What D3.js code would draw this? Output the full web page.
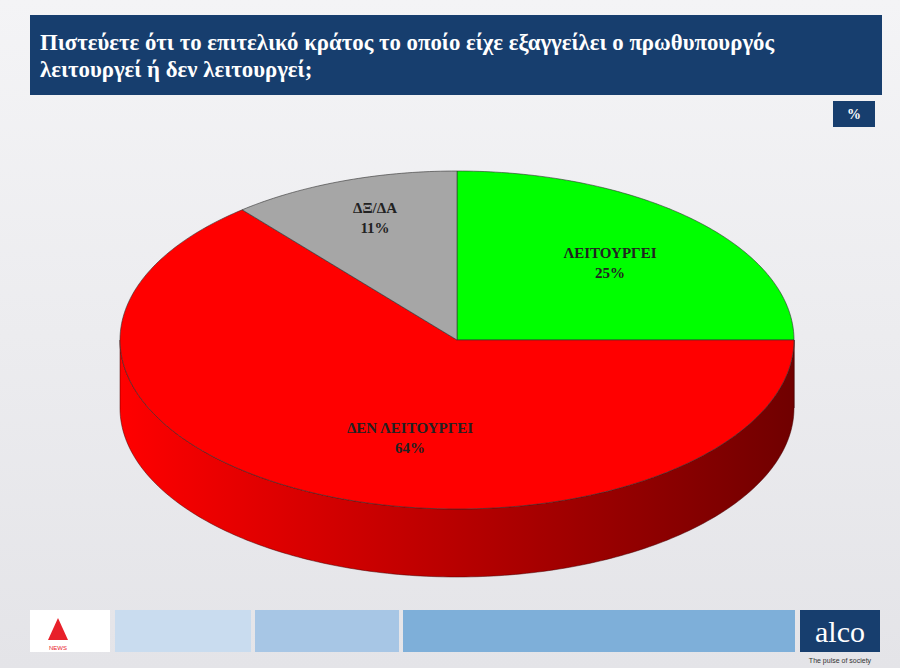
<!DOCTYPE html><html><head><meta charset="utf-8"><script src="https://cdn.jsdelivr.net/npm/d3@7"></script>
<style>body{margin:0}svg{display:block}</style></head><body><svg id="c" width="900" height="668"></svg>
<script>
const categories=["ΛΕΙΤΟΥΡΓΕΙ","ΔΕΝ ΛΕΙΤΟΥΡΓΕΙ","ΔΞ/ΔΑ"];
const values=[25,64,11];
const colors=["#00ff00","#ff0000","#a6a6a6"];
const sideDark=["#008000","#700000","#555555"];
const title=["Πιστεύετε ότι το επιτελικό κράτος το οποίο είχε εξαγγείλει ο πρωθυπουργός","λειτουργεί ή δεν λειτουργεί;"];
const svg=d3.select("#c");
const defs=svg.append("defs");
const bg=defs.append("linearGradient").attr("id","bg").attr("x1",0).attr("y1",0).attr("x2",0).attr("y2",1);
bg.append("stop").attr("offset","0").attr("stop-color","#f4f4f6");
bg.append("stop").attr("offset","1").attr("stop-color","#e4e4e8");
svg.append("rect").attr("width",900).attr("height",668).attr("fill","url(#bg)");
svg.append("rect").attr("x",30).attr("y",15).attr("width",852).attr("height",80).attr("fill","#173e6e");
svg.append("text").attr("fill","#fff").attr("font-family","Liberation Serif").attr("font-weight","bold").attr("font-size",22.8)
 .selectAll("tspan").data(title).join("tspan").attr("x",40).attr("y",(d,i)=>50+i*27).text(d=>d);
svg.append("rect").attr("x",833).attr("y",101).attr("width",42).attr("height",26).attr("fill","#173e6e");
svg.append("text").attr("x",854).attr("y",119).attr("text-anchor","middle").attr("fill","#fff").attr("font-family","Liberation Serif").attr("font-weight","bold").attr("font-size",14).text("%");
const cx=457,cy=340,rx=337,ry=169,depth=68;
const pie=d3.pie().sort(null).value(d=>d)(values);
const pt=(a,dy=0)=>[cx+rx*Math.sin(a),cy-ry*Math.cos(a)+dy];
const arcPts=(a0,a1,dy=0)=>{const n=Math.max(2,Math.ceil((a1-a0)*60));return d3.range(n+1).map(i=>pt(a0+(a1-a0)*i/n,dy));};
const line=d3.line();
pie.forEach((p,i)=>{
  const a0=Math.max(p.startAngle,Math.PI/2),a1=Math.min(p.endAngle,3*Math.PI/2);
  if(a1<=a0)return;
  const g=defs.append("linearGradient").attr("id","s"+i).attr("gradientUnits","userSpaceOnUse").attr("x1",cx-rx).attr("x2",cx+rx).attr("y1",0).attr("y2",0);
  g.append("stop").attr("offset","0").attr("stop-color",colors[i]);
  g.append("stop").attr("offset","0.35").attr("stop-color",d3.interpolateRgb(colors[i],sideDark[i])(0.35));
  g.append("stop").attr("offset","1").attr("stop-color",sideDark[i]);
  const pts=arcPts(a0,a1).concat(arcPts(a0,a1,depth).reverse());
  svg.append("path").attr("d",line(pts)+"Z").attr("fill","url(#s"+i+")").attr("stroke","#400").attr("stroke-width",0.5);
});
pie.forEach((p,i)=>{
  const pts=[[cx,cy]].concat(arcPts(p.startAngle,p.endAngle));
  svg.append("path").attr("d",line(pts)+"Z").attr("fill",colors[i]).attr("stroke","#333").attr("stroke-width",0.6);
});
const labelPos=[[610,258],[410,433],[375,213]];
pie.forEach((p,i)=>{
  const t=svg.append("text").attr("text-anchor","middle").attr("font-family","Liberation Serif").attr("font-weight","bold").attr("font-size",15).attr("fill","#222");
  t.append("tspan").attr("x",labelPos[i][0]).attr("y",labelPos[i][1]).text(categories[i]);
  t.append("tspan").attr("x",labelPos[i][0]).attr("y",labelPos[i][1]+20).text(values[i]+"%");
});
svg.append("rect").attr("x",30).attr("y",610).attr("width",80).attr("height",42).attr("fill","#fff");
svg.append("path").attr("d","M48,640 L58,618 L68,640 Z").attr("fill","#e8202a");
svg.append("text").attr("x",58).attr("y",650).attr("text-anchor","middle").attr("font-size",6).attr("fill","#e8202a").attr("font-family","Liberation Sans").text("NEWS");
[[115,136,"#c9dcef"],[255,144,"#a7c6e5"],[403,392,"#7eafd9"]].forEach(b=>svg.append("rect").attr("x",b[0]).attr("y",610).attr("width",b[1]).attr("height",42).attr("fill",b[2]));
svg.append("rect").attr("x",800).attr("y",610).attr("width",80).attr("height",42).attr("fill","#173e6e");
svg.append("text").attr("x",840).attr("y",642).attr("text-anchor","middle").attr("fill","#fff").attr("font-family","Liberation Serif").attr("font-size",30).text("alco");
svg.append("text").attr("x",840).attr("y",663).attr("text-anchor","middle").attr("fill","#333").attr("font-family","Liberation Sans").attr("font-size",7).text("The pulse of society");
</script></body></html>
